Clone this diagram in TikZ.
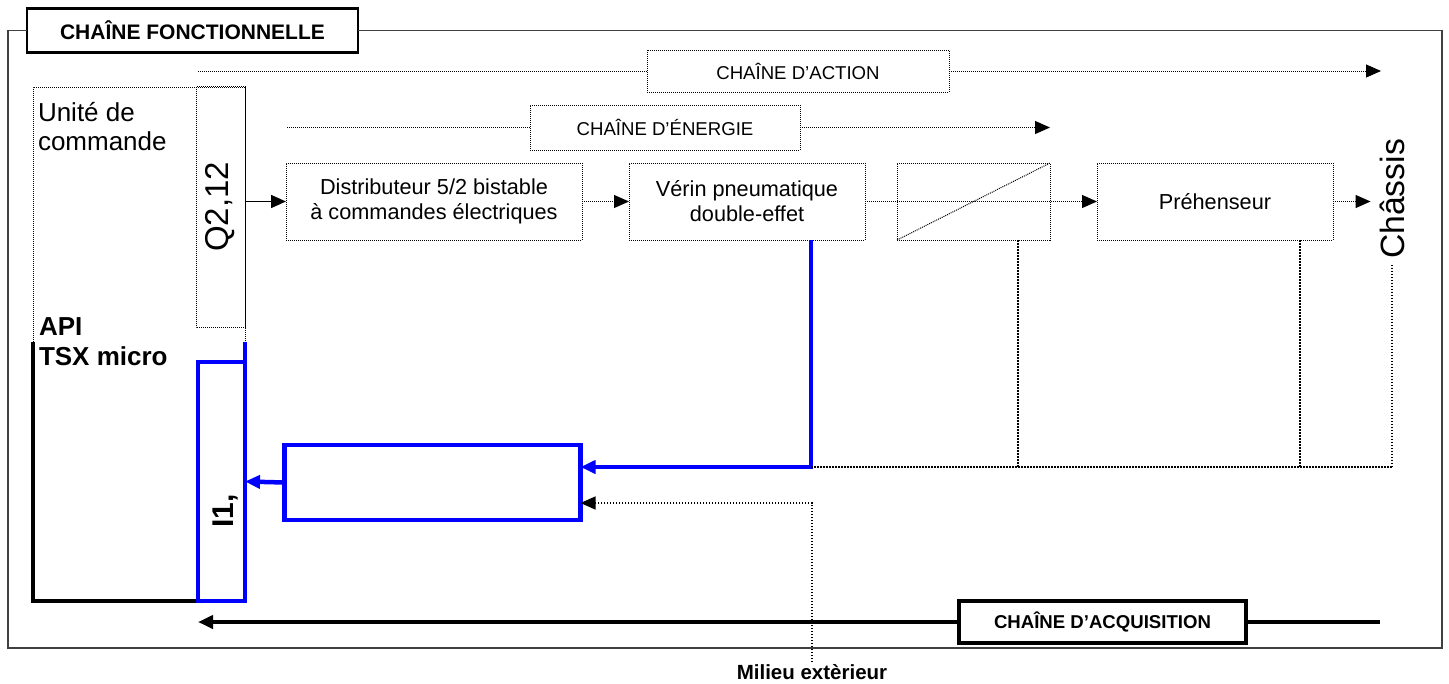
\documentclass[tikz,border=0pt]{standalone}
\usepackage{fontspec}
\setmainfont{Liberation Sans}
\usetikzlibrary{arrows.meta}
\usetikzlibrary{positioning}

\begin{document}
\begin{tikzpicture}[x=1pt,y=-1pt,>={Triangle[length=15pt,width=13pt]},
			inner sep=0pt,outer sep=0pt]
			\tikzstyle{dotbox}=[draw,densely dotted,line width=1pt,align=center,
				minimum height=77pt,font=\fontsize{21.7}{25}\selectfont]
			\tikzstyle{chainbox}=[draw,densely dotted,line width=1pt,
				font=\fontsize{18.6}{22}\selectfont]
			\tikzstyle{titlebox}=[draw,line width=2.5pt,fill=white,
				font=\bfseries\fontsize{21}{25}\selectfont]
			\tikzstyle{dotline}=[densely dotted,line width=1pt]
			\tikzstyle{fbline}=[line width=1.5pt,dash pattern=on 1.5pt off 1.5pt]
			\tikzstyle{blueline}=[blue,line width=4.5pt]
			\tikzstyle{heavy}=[line width=4pt]
			
			\useasboundingbox (0,0) rectangle (1449,683);
			
			% cadre general
			\node[titlebox,minimum width=331pt,minimum height=44pt] (fonct) at (192.5,30.5) {CHAÎNE FONCTIONNELLE};
			\draw[line width=1.3pt,black!75] (fonct.west) -- (8,30.5) -- (8,648) -- (1442,648) -- (1442,30.5) -- (fonct.east);
			
			% unite de commande
			\draw[dotline] (33,342) -- (33,87) -- (245,87) -- (245,342);
			\node[draw,densely dotted,line width=1pt,rotate=90,minimum width=241pt,minimum height=49pt,
				font=\fontsize{33}{38}\selectfont] (Q) at (220.5,207) {Q2,12};
			\node[anchor=north west,align=left,font=\fontsize{26}{29}\selectfont] (unite) at (38,102) {Unité de\\commande};
			\node[anchor=north west,align=left,font=\bfseries\fontsize{26}{30}\selectfont] (api) at (39,318) {API\\TSX micro};
			\draw[heavy] (198,601) -- (33,601) -- (33,342);
			\node[draw=blue,line width=4.5pt,minimum width=47pt,minimum height=239pt] (ibox) at (221.5,481.5) {};
			\draw[blueline] (ibox.north east) -- ++(0,-20);
			\node[rotate=90,font=\bfseries\fontsize{30}{34}\selectfont] (itext) at (225,511) {I1,};
			
			% chaine d'action / d'energie
			\node[chainbox,minimum width=302pt,minimum height=42pt] (action) at (798,71) {CHAÎNE D’ACTION};
			\coordinate (actstart) at (198,71);
			\coordinate (actend) at (1381,71);
			\draw[dotline] (actstart) -- (action.west);
			\draw[dotline,->] (action.east) -- (actend);
			
			\node[chainbox,minimum width=270pt,minimum height=45pt] (energie) at (665,127.5) {CHAÎNE D’ÉNERGIE};
			\coordinate (enstart) at (287,127.5);
			\coordinate (enend) at (1050,127.5);
			\draw[dotline] (enstart) -- (energie.west);
			\draw[dotline,->] (energie.east) -- (enend);
			
			% composants
			\node[dotbox,minimum width=296pt] (distrib) at (434,201.5) {Distributeur 5/2 bistable\\à commandes électriques};
			\node[dotbox,minimum width=236pt,right=47pt of distrib] (verin) {Vérin pneumatique\\double-effet};
			\node[dotbox,minimum width=153pt,right=32pt of verin] (trans) {};
			\node[dotbox,minimum width=236pt,right=47pt of trans] (prehen) {Préhenseur};
			\node[rotate=90,font=\fontsize{33.7}{38}\selectfont] (chassis) at (1392,199) {Châssis};
			\draw[dotline] (trans.south west) -- (trans.north east);
			
			\draw[line width=1.5pt,->] (Q.south |- distrib.west) -- (distrib.west);
			\draw[dotline,->] (distrib) -- (verin);
			\draw[dotline,->] (verin) -- (prehen);
			\draw[dotline,->,shorten >=9pt] (prehen.east) -- (prehen.east -| chassis.north);
			
			% capteur
			\node[draw=blue,line width=4.5pt,minimum width=296pt,minimum height=75pt] (capt) at (432.5,482.5) {};
			\draw[blueline,->] (capt.west) -- (ibox.east);
			\coordinate (vout) at ([xshift=64pt]verin.south);
			\coordinate (cin) at ([yshift=15.5pt]capt.east);
			\coordinate (mes) at (cin -| vout);
			\draw[blueline,->] (vout) -- (mes) -- (cin);
			
			% retours
			\coordinate (cend) at (chassis.west |- mes);
			\draw[fbline] (mes) -- (cend);
			\draw[fbline] ([yshift=-6pt]chassis.west) -- (cend);
			\coordinate (tout) at ([xshift=-32pt]trans.south east);
			\draw[fbline] (tout) -- (tout |- mes);
			\coordinate (pout) at ([xshift=-33pt]prehen.south east);
			\draw[fbline] (pout) -- (pout |- mes);
			
			% milieu exterieur
			\node[font=\bfseries\fontsize{20.5}{24}\selectfont] (milieu) at (812,672) {Milieu extèrieur};
			\coordinate (cenv) at ([yshift=-20.5pt]capt.east);
			\draw[fbline,->] ([yshift=2pt]milieu.north) |- (cenv);
			
			% chaine d'acquisition
			\node[titlebox,line width=4pt,minimum width=287pt,minimum height=42pt,
				font=\bfseries\fontsize{18.6}{22}\selectfont] (acq) at (1102.5,622) {CHAÎNE D’ACQUISITION};
			\coordinate (acqstart) at (1380,622);
			\coordinate (acqend) at (198,622);
			\draw[heavy] (acqstart) -- (acq.east);
			\draw[heavy,->] (acq.west) -- (acqend);
			\end{tikzpicture}
\end{document}
